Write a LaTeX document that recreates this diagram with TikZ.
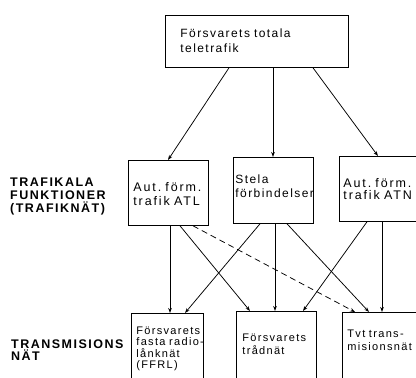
\documentclass[tikz,border=0pt]{standalone}
\usepackage{fontspec}
\setmainfont{Liberation Sans}
\newfontfamily\boxfont[LetterSpace=12]{Liberation Sans}
\newfontfamily\wideboxfont[LetterSpace=15]{Liberation Sans}
\newfontfamily\lblfont[LetterSpace=12]{Liberation Sans}
\usetikzlibrary{arrows.meta}
\tikzset{
  box/.style={draw, line width=0.8pt, anchor=north west, inner ysep=0pt, align=left},
  arr/.style={-{Stealth[length=5pt,width=3.6pt]}, line width=0.75pt},
  dasharr/.style={arr, dash pattern=on 6pt off 4pt},
  lbl/.style={anchor=base west, align=left, inner sep=0pt}
}
\begin{document}
\begin{tikzpicture}[x=1pt,y=-1pt]
\useasboundingbox (0,0) rectangle (416,378);
\clip (0,0) rectangle (416,378);
\hyphenpenalty=10000
% boxes
\node[box, inner xsep=15pt, text width=153pt, text height=22.3pt, text depth=29.7pt,
  font=\boxfont\fontsize{12}{14.5}\selectfont] (top) at (165,15)
  {\mbox{Försvarets~totala}\\teletrafik};
\node[box, inner xsep=5pt, text width=70pt, text height=30.7pt, text depth=34.3pt,
  font=\wideboxfont\fontsize{12.5}{14}\selectfont] (atl) at (128,160)
  {\mbox{Aut.~förm.}\\\mbox{trafik~ATL}};
\node[box, inner xsep=2pt, text width=76pt, text height=26.3pt, text depth=39.7pt,
  font=\boxfont\fontsize{12}{14}\selectfont] (stela) at (233,157)
  {Stela\\\mbox{förbindelser}};
\node[box, inner xsep=4pt, text width=83pt, text height=30.7pt, text depth=34.3pt,
  font=\wideboxfont\fontsize{12.5}{12}\selectfont] (atn) at (339,156)
  {\mbox{Aut.~förm.}\\\mbox{trafik~ATN}};
\node[box, inner xsep=5pt, text width=62pt, text height=20.7pt, text depth=56.3pt,
  font=\boxfont\fontsize{11}{11.5}\selectfont] (ffrl) at (131,313)
  {Försvarets\\\mbox{fasta~radio-}\\lånknät\\(FFRL)};
\node[box, inner xsep=6pt, text width=68pt, text height=29.7pt, text depth=49.3pt,
  font=\boxfont\fontsize{11}{13.3}\selectfont] (trad) at (236,311)
  {Försvarets\\trådnät};
\node[box, inner xsep=5pt, text width=78pt, text height=25pt, text depth=53pt,
  font=\boxfont\fontsize{11}{13}\selectfont] (tvt) at (342,312)
  {\mbox{Tvt~trans-}\\misionsnät};
% side labels (base = last line)
\node[lbl, font=\lblfont\bfseries\fontsize{12.5}{12.7}\selectfont] (lab1) at (10,212)
  {TRAFIKALA\\FUNKTIONER\\(TRAFIKNÄT)};
\node[lbl, font=\lblfont\bfseries\fontsize{12.5}{12}\selectfont] (lab2) at (11,360)
  {TRANSMISIONS\\NÄT};
% connectors
\draw[arr] ([xshift=64pt]top.south west) -- ([xshift=40pt]atl.north west);
\draw[arr] ([xshift=108pt]top.south west) -- ([xshift=40pt]stela.north west);
\draw[arr] ([xshift=148pt]top.south west) -- ([xshift=39pt]atn.north west);
\draw[arr] ([xshift=42pt]atl.south west) -- ([xshift=39pt]ffrl.north west);
\draw[arr] ([xshift=27pt]stela.south west) -- ([xshift=54pt]ffrl.north west);
\draw[arr] ([xshift=52pt]atl.south west) -- ([xshift=14pt]trad.north west);
\draw[arr] ([xshift=42pt]stela.south west) -- ([xshift=39pt]trad.north west);
\draw[arr] ([xshift=28pt]atn.south west) -- ([xshift=67pt]trad.north west);
\draw[arr] ([xshift=54pt]stela.south west) -- ([xshift=27pt]tvt.north west);
\draw[dasharr] ([xshift=65pt]atl.south west) -- ([xshift=13pt]tvt.north west);
\draw[arr] ([xshift=43pt]atn.south west) -- ([xshift=40pt]tvt.north west);
\end{tikzpicture}
\end{document}
